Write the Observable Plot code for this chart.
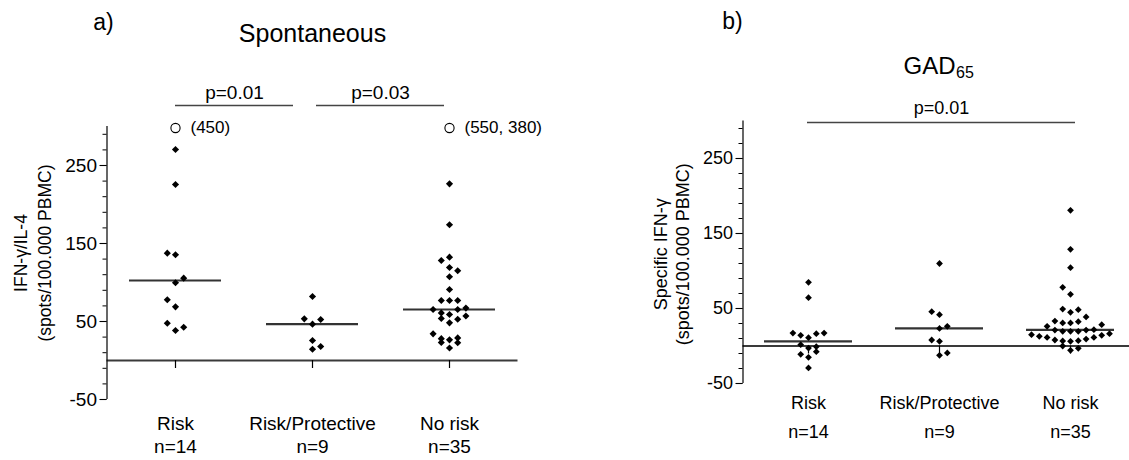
<!DOCTYPE html>
<html>
<head>
<meta charset="utf-8">
<script src="https://cdn.jsdelivr.net/npm/d3@7"></script>
<script src="https://cdn.jsdelivr.net/npm/@observablehq/plot@0.6"></script>
<style>
html, body { margin: 0; padding: 0; background: #fff; overflow: hidden; }
#wrap { position: relative; width: 1129px; height: 460px; overflow: hidden; background: #fff; }
#wrap svg { position: absolute; top: 0; }
</style>
</head>
<body>
<div id="wrap"></div>
<script>
// ---------- data ----------
const groups = ["Risk", "Risk/Protective", "No risk"];
const nLabels = ["n=14", "n=9", "n=35"];
const yTicks = [-50, 50, 150, 250];
const yMinorTicks = d3.range(-50, 300, 20);

// a) Spontaneous  (IFN-γ/IL-4 spots / 100.000 PBMC)
const spontRisk = [270.5, 225.6, 137.6, 135.5, 105.6, 99.6, 77.8, 68.8, 47.8, 42.7, 38.5];
const spontRiskProtective = [82, 53.4, 52.6, 46.6, 25.6, 18, 14.5];
const spontNoRisk = [226.5, 174, 132.5, 128.2, 119.2, 115, 107.3, 91, 76.9, 76.9, 76.9, 67.2, 65.4, 65.4,
  61, 59, 57, 53.8, 52.8, 48.3, 34.2, 29, 28, 26.5, 23.1, 22.8, 16];
const spontMedians = [102.6, 46.6, 65.4];
const spontOffscaleGroups = ["Risk", "No risk"];
const spontOffscaleValues = [[450], [550, 380]];
const spontBrackets = [
  {from: "Risk", to: "Risk/Protective", label: "p=0.01"},
  {from: "Risk/Protective", to: "No risk", label: "p=0.03"}
];

// b) GAD65  (specific IFN-γ spots / 100.000 PBMC)
const gadRisk = [84.9, 64.4, 17.3, 17.3, 16.4, 14.2, 11.1, 1.8, -0.9, -2.7, -7.6, -11.1, -15.1, -29.3];
const gadRiskProtective = [110, 45.8, 41.8, 26.2, 23.5, 8, 6.2, -9.3, -12.4];
const gadNoRisk = [180.9, 128.9, 104.4, 78.2, 68.9, 49.3, 48.4, 44.9, 38.7, 33.3, 32.4, 30.7, 30.7,
  28.4, 26.2, 21.8, 21.3, 21.3, 19.6, 19.6, 19.6, 16.4, 15.1, 14.2, 12.9, 11.5, 11.5, 9.3, 8, 7.1,
  6.7, 6.2, 0, -3.1, -5.8];
const gadMedians = [6.2, 23.5, 21.5];
const gadBrackets = [{from: "Risk", to: "No risk", label: "p=0.01"}];

// ---------- layout helpers ----------
const yDomain = [-50, 300];
const xDomain = [-0.5, 2.5];
const FONT = "'Liberation Sans', Arial, Helvetica, sans-serif";

// column-scatter layout: bin values from the bottom, spread each bin sideways
function swarm(values, gi, binPx, stepPx, pxPerValue, pxPerIndex) {
  const v = values.slice().sort((a, b) => a - b);
  const w = binPx / pxPerValue;
  const out = [];
  let side = 1;
  for (let i = 0; i < v.length; ) {
    const start = v[i];
    for (let k = 0; i < v.length && v[i] - start < w; k++, i++) {
      const slot = k === 0 ? 0 : side * (k % 2 ? 1 : -1) * Math.ceil(k / 2);
      out.push({group: groups[gi], value: v[i], x: gi + slot * stepPx / pxPerIndex});
    }
    side = -side;
  }
  return out;
}

function panel(cfg) {
  const W = cfg.width, H = 460;
  const frameW = W - cfg.ml - cfg.mr, frameH = H - cfg.mt - cfg.mb;
  const pxPerIndex = frameW / (xDomain[1] - xDomain[0]);
  const pxPerValue = frameH / (yDomain[1] - yDomain[0]);
  const idx = g => groups.indexOf(g);
  const yTop = yDomain[1], yBottom = yDomain[0], xLeft = xDomain[0];
  const dots = cfg.series.flatMap((vals, gi) => swarm(vals, gi, cfg.binPx, cfg.stepPx, pxPerValue, pxPerIndex));
  const brackets = cfg.brackets.map((b, j) => ({
    ...b,
    x1: idx(b.from) + cfg.bracketTrim[j][0] / pxPerIndex,
    x2: idx(b.to) + cfg.bracketTrim[j][1] / pxPerIndex
  }));
  const offscale = (cfg.offGroups || []).map((g, j) => ({group: g, label: "(" + cfg.offValues[j].join(", ") + ")"}));
  const half = cfg.medianHalfPx / pxPerIndex;
  const majorLen = 7 / pxPerIndex, minorLen = 4 / pxPerIndex, xTickLen = 8 / pxPerValue;

  const marks = [
    // zero line
    Plot.ruleY([0], {stroke: "#3a3a3a", strokeWidth: 1.8}),
    // y axis line + ticks + labels
    Plot.ruleX([xLeft], {stroke: "#000", strokeWidth: 1.2}),
    Plot.ruleY(yMinorTicks, {y: d => d, x1: () => xLeft - minorLen, x2: () => xLeft, stroke: "#000", strokeWidth: 1}),
    Plot.ruleY(yTicks, {y: d => d, x1: () => xLeft - majorLen, x2: () => xLeft, stroke: "#000", strokeWidth: 1.1}),
    Plot.axisY(yTicks, {tickSize: 0, tickPadding: 10, fontSize: cfg.tickFont, label: null, tickFormat: d => String(d)}),
    // x ticks at the zero line
    Plot.ruleX(groups, {x: (d, i) => i, y1: () => 0, y2: () => -xTickLen, stroke: "#000", strokeWidth: 1.2}),
    // category labels
    Plot.text(groups, {x: (d, i) => i, y: () => yBottom, dy: cfg.catDy, text: d => d, lineAnchor: "bottom", fontSize: cfg.catFont}),
    Plot.text(nLabels, {x: (d, i) => i, y: () => yBottom, dy: cfg.nDy, text: d => d, lineAnchor: "bottom", fontSize: cfg.catFont}),
    // medians
    Plot.ruleY(cfg.medians, {y: d => d, x1: (d, i) => i - half, x2: (d, i) => i + half, stroke: "#333", strokeWidth: 2.1}),
    // points
    Plot.dot(dots, {x: "x", y: "value", symbol: "diamond2", r: cfg.r, fill: "#000", stroke: null}),
    // significance brackets
    Plot.ruleY(brackets, {y: () => yTop, dy: cfg.bracketDy, x1: "x1", x2: "x2", stroke: "#444", strokeWidth: 1.7}),
    Plot.text(brackets, {x: d => (d.x1 + d.x2) / 2, y: () => yTop, dy: cfg.pTextDy, text: "label", textAnchor: "middle", lineAnchor: "bottom", fontSize: cfg.pFont}),
    // y label
    Plot.text([cfg.yLabel], {frameAnchor: "left", dx: cfg.yLabelDx, dy: cfg.yLabelDy, rotate: -90, text: d => d,
      textAnchor: "middle", lineAnchor: "middle", lineHeight: cfg.yLabelLH, fontSize: cfg.yLabelFont}),
    // panel letter
    Plot.text([cfg.letter], {frameAnchor: "top-left", dx: cfg.letterDx, dy: cfg.letterDy, text: d => d,
      textAnchor: "middle", lineAnchor: "bottom", fontSize: cfg.letterFont})
  ];
  // off-scale values
  if (offscale.length) {
    marks.push(
      Plot.dot(offscale, {x: d => idx(d.group), y: () => yTop, dy: 1.5, r: 4.6, stroke: "#000", fill: "#fff", strokeWidth: 1.1}),
      Plot.text(offscale, {x: d => idx(d.group), y: () => yTop, dy: 1.5, dx: 15, text: "label", textAnchor: "start", lineAnchor: "middle", fontSize: cfg.offFont})
    );
  }
  // title (main part + optional subscript)
  marks.push(Plot.text([cfg.title], {x: () => 1, y: () => yTop, dx: cfg.titleDx, dy: cfg.titleDy, text: d => d,
    textAnchor: cfg.titleSub ? "start" : "middle", lineAnchor: "bottom", fontSize: cfg.titleFont}));
  if (cfg.titleSub) {
    marks.push(Plot.text([cfg.titleSub], {x: () => 1, y: () => yTop, dx: cfg.subDx, dy: cfg.subDy, text: d => d,
      textAnchor: "start", lineAnchor: "bottom", fontSize: cfg.subFont}));
  }

  const svg = Plot.plot({
    width: W, height: H,
    marginLeft: cfg.ml, marginRight: cfg.mr, marginTop: cfg.mt, marginBottom: cfg.mb,
    x: {type: "linear", domain: xDomain, axis: null},
    y: {type: "linear", domain: yDomain, axis: null},
    style: {fontFamily: FONT, color: "#000", background: "transparent", overflow: "visible"},
    marks
  });
  svg.style.left = cfg.left + "px";
  return svg;
}

const wrap = document.getElementById("wrap");

wrap.appendChild(panel({
  left: 0, width: 560, ml: 106.5, mr: 42.5, mt: 126, mb: 61,
  series: [spontRisk, spontRiskProtective, spontNoRisk], medians: spontMedians,
  binPx: 8.1, stepPx: 8.2, r: 3.2, medianHalfPx: 46,
  brackets: spontBrackets, bracketTrim: [[0, -19], [4, -5]], bracketDy: -21, pTextDy: -28, pFont: 19,
  offGroups: spontOffscaleGroups, offValues: spontOffscaleValues, offFont: 17,
  tickFont: 19, catFont: 19, catDy: 30, nDy: 53,
  yLabel: "IFN-γ/IL-4\n(spots/100.000 PBMC)", yLabelDx: -75.5, yLabelDy: -10, yLabelLH: 1.33, yLabelFont: 17.5,
  letter: "a)", letterDx: -3.5, letterDy: -97, letterFont: 23,
  title: "Spontaneous", titleDx: 0, titleDy: -85, titleFont: 25
}));

wrap.appendChild(panel({
  left: 560, width: 580, ml: 182.5, mr: 4.5, mt: 120.5, mb: 77,
  series: [gadRisk, gadRiskProtective, gadNoRisk], medians: gadMedians,
  binPx: 8.1, stepPx: 7.8, r: 3.05, medianHalfPx: 44,
  brackets: gadBrackets, bracketTrim: [[-1, 5]], bracketDy: 1.5, pTextDy: -7.5, pFont: 18,
  tickFont: 18, catFont: 18, catDy: 25, nDy: 54,
  yLabel: "Specific IFN-γ\n(spots/100.000 PBMC)", yLabelDx: -72, yLabelDy: 2, yLabelLH: 1.25, yLabelFont: 18,
  letter: "b)", letterDx: -10.5, letterDy: -92.5, letterFont: 23,
  title: "GAD", titleDx: -36, titleDy: -47.5, titleFont: 24,
  titleSub: "65", subDx: 16.5, subDy: -43.5, subFont: 16
}));
</script>
</body>
</html>
